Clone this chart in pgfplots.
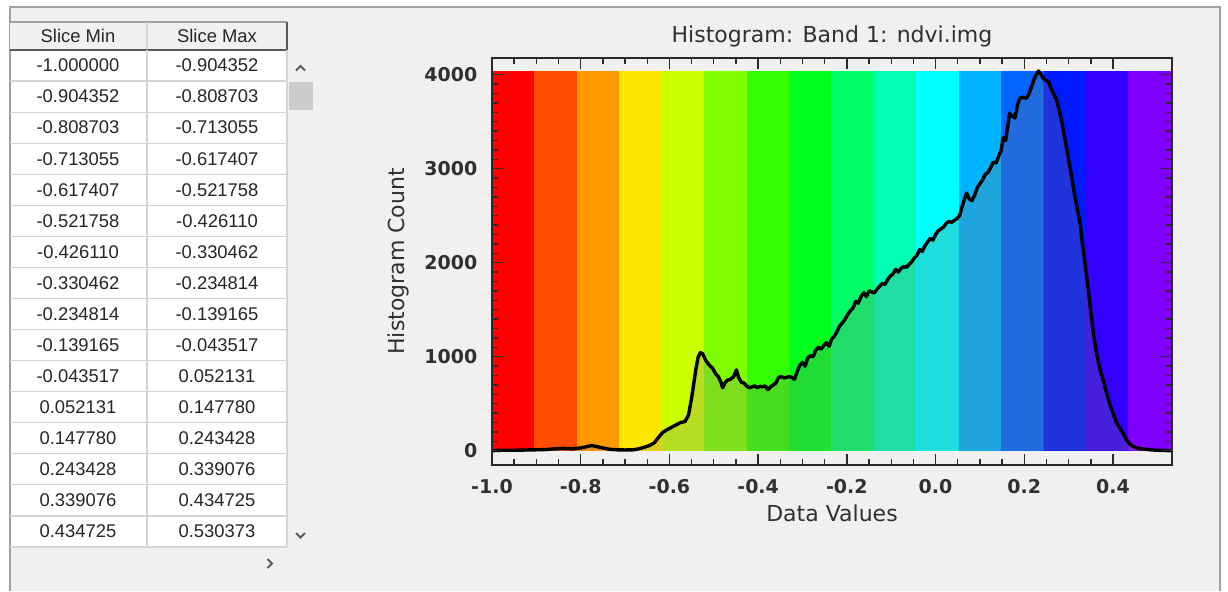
\documentclass[border=0pt]{standalone}
\usepackage{pgfplots}
\pgfplotsset{compat=1.18}
\usepackage{pgfplotstable}
\usepackage{fontspec}
\setmainfont{DejaVu Sans}
\newfontfamily\tablefont{Liberation Sans}
\definecolor{winbg}{HTML}{F0F0F0}
\definecolor{frm}{HTML}{A0A0A0}
\definecolor{grd}{HTML}{D4D4D4}
\definecolor{thumb}{HTML}{CDCDCD}
\definecolor{axc}{HTML}{2A2A2A}
\definecolor{tcol}{HTML}{303030}
\definecolor{mg}{RGB}{123,123,123}
\definecolor{b1}{HTML}{FF0000}
\definecolor{b2}{HTML}{FF4D00}
\definecolor{b3}{HTML}{FF9900}
\definecolor{b4}{HTML}{FFE600}
\definecolor{b5}{HTML}{CCFF00}
\definecolor{b6}{HTML}{80FF00}
\definecolor{b7}{HTML}{33FF00}
\definecolor{b8}{HTML}{00FF1A}
\definecolor{b9}{HTML}{00FF66}
\definecolor{b10}{HTML}{00FFB3}
\definecolor{b11}{HTML}{00FFFF}
\definecolor{b12}{HTML}{00B3FF}
\definecolor{b13}{HTML}{0066FF}
\definecolor{b14}{HTML}{001AFF}
\definecolor{b15}{HTML}{3300FF}
\definecolor{b16}{HTML}{8000FF}
\colorlet{d1}{b1!74!mg}
\colorlet{d2}{b2!74!mg}
\colorlet{d3}{b3!74!mg}
\colorlet{d4}{b4!74!mg}
\colorlet{d5}{b5!74!mg}
\colorlet{d6}{b6!74!mg}
\colorlet{d7}{b7!74!mg}
\colorlet{d8}{b8!74!mg}
\colorlet{d9}{b9!74!mg}
\colorlet{d10}{b10!74!mg}
\colorlet{d11}{b11!74!mg}
\colorlet{d12}{b12!74!mg}
\colorlet{d13}{b13!74!mg}
\colorlet{d14}{b14!74!mg}
\colorlet{d15}{b15!74!mg}
\colorlet{d16}{b16!74!mg}

\pgfplotstableread{
x y
-1.000 0
-0.980 5
-0.950 5
-0.920 8
-0.900 10
-0.880 12
-0.860 20
-0.840 25
-0.820 20
-0.800 30
-0.785 45
-0.775 55
-0.765 45
-0.750 30
-0.735 15
-0.720 10
-0.700 8
-0.680 10
-0.665 25
-0.655 40
-0.645 55
-0.635 80
-0.625 140
-0.615 195
-0.605 225
-0.595 250
-0.585 275
-0.575 300
-0.565 310
-0.557 380
-0.550 560
-0.545 720
-0.540 880
-0.535 1000
-0.530 1045
-0.525 1030
-0.518 960
-0.510 910
-0.503 880
-0.496 820
-0.490 790
-0.484 730
-0.480 670
-0.475 720
-0.470 750
-0.462 760
-0.455 790
-0.449 860
-0.444 780
-0.438 730
-0.432 720
-0.426 690
-0.420 670
-0.414 680
-0.408 690
-0.402 670
-0.396 685
-0.390 680
-0.384 690
-0.378 650
-0.372 680
-0.366 700
-0.360 720
-0.354 780
-0.348 790
-0.342 775
-0.336 780
-0.330 790
-0.324 780
-0.318 760
-0.312 840
-0.306 910
-0.300 940
-0.294 900
-0.288 990
-0.282 1010
-0.276 1000
-0.270 1070
-0.264 1100
-0.258 1080
-0.252 1120
-0.246 1150
-0.240 1110
-0.234 1190
-0.228 1220
-0.222 1270
-0.216 1330
-0.210 1360
-0.204 1400
-0.198 1450
-0.192 1490
-0.186 1520
-0.180 1590
-0.174 1570
-0.168 1640
-0.162 1680
-0.156 1640
-0.150 1700
-0.144 1690
-0.138 1680
-0.132 1720
-0.126 1750
-0.120 1780
-0.114 1770
-0.108 1820
-0.102 1860
-0.096 1880
-0.090 1930
-0.084 1900
-0.078 1940
-0.072 1960
-0.066 1950
-0.060 1980
-0.054 2010
-0.048 2050
-0.042 2080
-0.036 2140
-0.030 2120
-0.024 2180
-0.018 2220
-0.012 2260
-0.006 2240
0.000 2300
0.006 2340
0.012 2360
0.018 2380
0.024 2420
0.030 2440
0.036 2430
0.042 2450
0.048 2470
0.054 2500
0.060 2600
0.066 2690
0.070 2740
0.076 2680
0.082 2660
0.088 2720
0.094 2800
0.100 2840
0.106 2880
0.112 2940
0.118 2960
0.124 3010
0.130 3070
0.136 3060
0.142 3130
0.148 3200
0.152 3330
0.158 3300
0.163 3460
0.167 3590
0.173 3560
0.179 3540
0.185 3680
0.190 3750
0.197 3760
0.205 3750
0.211 3800
0.217 3880
0.222 3950
0.227 4000
0.232 4040
0.237 4010
0.243 3960
0.248 3940
0.254 3930
0.260 3860
0.266 3800
0.273 3730
0.279 3620
0.285 3490
0.291 3330
0.297 3180
0.303 3020
0.309 2850
0.315 2680
0.320 2560
0.326 2420
0.330 2240
0.334 2100
0.337 1995
0.342 1800
0.348 1560
0.355 1280
0.362 1060
0.370 880
0.378 750
0.386 610
0.393 490
0.400 400
0.407 310
0.414 250
0.422 190
0.430 120
0.438 70
0.446 45
0.453 30
0.465 20
0.483 10
0.500 5
0.515 3
0.530373 0
}\curve

\newcommand{\band}[3]{%
  \addplot[fill=b#3, draw=none] coordinates {(#1,0) (#1,4043) (#2,4043) (#2,0)} -- cycle;
  \begin{scope}
    \clip (axis cs:#1,-300) rectangle (axis cs:#2,4400);
    \addplot[fill=d#3, draw=none] table {\curve} -- cycle;
  \end{scope}
}

\begin{document}
\begin{tikzpicture}
\begin{scope}[x=0.5pt,y=-0.5pt]
  \fill[white] (0,0) rectangle (1228,591);
  \useasboundingbox (0,0) rectangle (1228,591);
  \fill[winbg] (10,7) rectangle (1220,591);
  \draw[frm, line width=0.8pt] (10,591) -- (10,7) -- (1220,7) -- (1220,591);
  % header
  \fill[winbg] (10,22) rectangle (287,50);
  \draw[frm, line width=0.6pt] (10,22) -- (287,22);
  \draw[grd, line width=0.6pt] (147,22) -- (147,50);
  \draw[gray!70!black, line width=0.8pt] (10,50) -- (287,50);
  \draw[gray!70!black, line width=0.8pt] (287,22) -- (287,50);
  % body
  \fill[white] (11,51) rectangle (287,547);
  \foreach \k in {1,...,16} {
    \draw[grd, line width=0.6pt] (10,{50+31.0625*\k}) -- (287,{50+31.0625*\k});
  }
  \draw[grd, line width=0.6pt] (147,50) -- (147,547);
  \draw[grd, line width=0.6pt] (287,50) -- (287,547);
  \node[font=\tablefont\fontsize{9.2}{11}\selectfont, text=black!85] at (78,36) {Slice Min};
  \node[font=\tablefont\fontsize{9.2}{11}\selectfont, text=black!85] at (217,36) {Slice Max};
  \foreach \a/\b [count=\i from 0] in {-1.000000/-0.904352,-0.904352/-0.808703,-0.808703/-0.713055,-0.713055/-0.617407,-0.617407/-0.521758,-0.521758/-0.426110,-0.426110/-0.330462,-0.330462/-0.234814,-0.234814/-0.139165,-0.139165/-0.043517,-0.043517/0.052131,0.052131/0.147780,0.147780/0.243428,0.243428/0.339076,0.339076/0.434725,0.434725/0.530373} {
    \node[font=\tablefont\fontsize{9.2}{11}\selectfont, text=black!85] at (78,{50+31.0625*(\i+0.5)}) {\a};
    \node[font=\tablefont\fontsize{9.2}{11}\selectfont, text=black!85] at (217,{50+31.0625*(\i+0.5)}) {\b};
  }
  % scrollbar
  \fill[thumb] (289,82) rectangle (313,110);
  \draw[gray!70!black, line width=0.9pt] (296,70.5) -- (300.5,66) -- (305,70.5);
  \draw[gray!70!black, line width=0.9pt] (296,533) -- (300.5,537.5) -- (305,533);
  \draw[gray!70!black, line width=0.9pt] (267.5,559) -- (272,563.5) -- (267.5,568);
\end{scope}
\begin{axis}[
  at={(246pt,-232.5pt)}, anchor=south west,
  scale only axis, width=340pt, height=203.65pt,
  xmin=-1, xmax=0.533, ymin=-152, ymax=4181,
  axis on top,
  axis line style={color=axc, line width=1pt},
  tick style={color=axc, line width=0.7pt},
  major tick length=5.5pt, minor tick length=3pt,
  tick align=inside,
  xtick={-1,-0.8,-0.6,-0.4,-0.2,0,0.2,0.4},
  minor x tick num=3,
  ytick={0,1000,2000,3000,4000},
  minor y tick num=9,
  scaled ticks=false,
  xticklabel style={font=\bfseries\fontsize{9.5}{11}\selectfont, text=tcol, yshift=-3.5pt,
    /pgf/number format/.cd, fixed, fixed zerofill, precision=1, assume math mode=true},
  yticklabel style={font=\bfseries\fontsize{9.5}{11}\selectfont, text=tcol, xshift=-3.8pt,
    /pgf/number format/.cd, fixed, 1000 sep={}, assume math mode=true},
  title={Histogram: Band 1: ndvi.img},
  title style={at={(axis description cs:0.5,1)}, anchor=center, yshift=4.85pt, font=\fontsize{11}{13}\selectfont, text=tcol},
  xlabel={Data Values},
  xlabel style={at={(axis description cs:0.5,0)}, anchor=center, yshift=-24pt, font=\fontsize{11}{13}\selectfont, text=tcol},
  ylabel={Histogram Count},
  ylabel style={at={(axis description cs:-0.1382,0.5)}, anchor=center, font=\fontsize{11}{13}\selectfont, text=tcol},
]
\band{-1.000000}{-0.904352}{1}
\band{-0.904352}{-0.808703}{2}
\band{-0.808703}{-0.713055}{3}
\band{-0.713055}{-0.617407}{4}
\band{-0.617407}{-0.521758}{5}
\band{-0.521758}{-0.426110}{6}
\band{-0.426110}{-0.330462}{7}
\band{-0.330462}{-0.234814}{8}
\band{-0.234814}{-0.139165}{9}
\band{-0.139165}{-0.043517}{10}
\band{-0.043517}{0.052131}{11}
\band{0.052131}{0.147780}{12}
\band{0.147780}{0.243428}{13}
\band{0.243428}{0.339076}{14}
\band{0.339076}{0.434725}{15}
\band{0.434725}{0.530373}{16}
\addplot[black, line width=1.7pt, line join=round] table {\curve};
\end{axis}
\end{tikzpicture}
\end{document}
